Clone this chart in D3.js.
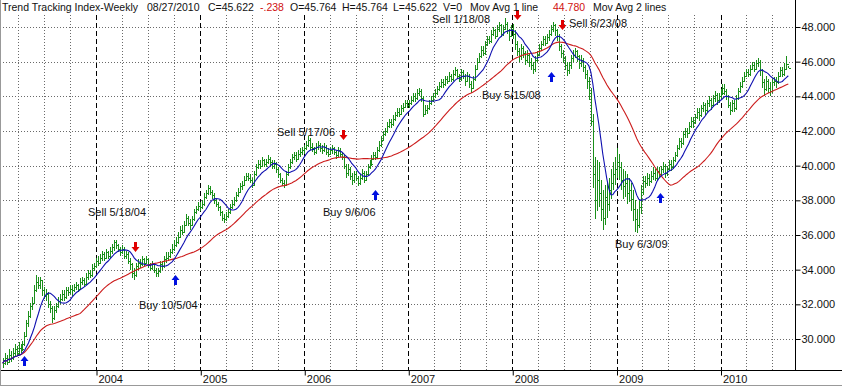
<!DOCTYPE html>
<html>
<head>
<meta charset="utf-8">
<script src="https://cdn.jsdelivr.net/npm/d3@7"></script>
<style>
  html, body { margin: 0; padding: 0; background: #fff; }
  svg { display: block; font-family: Arial, "Liberation Sans", sans-serif; }
</style>
</head>
<body>
<div id="chart"></div>
<script>
// Weekly bars, one per Friday starting with this week.
const firstWeek = '2003-02-07';

// Weekly closes, one line per calendar year.
const closes = [
  28.6, 28.9, 28.7, 29.1, 28.9, 29.2, 29.4, 29.2, 29.5, 29.4, 29.7, 30.2, 30.9, 31.3, 31.9, 32.1, 32.8, 33.3, 33.1, 33.4, 32.8, 32.5, 32.6, 32.0, 31.8, 31.2, 31.7, 31.9, 32.2, 32.3, 32.6, 32.4, 32.8, 32.7, 32.9, 32.8, 33.0, 33.1, 32.9, 33.3, 33.4, 33.2, 33.6, 33.8, 33.7, 34.1, 34.2,
  34.5, 34.4, 34.7, 34.9, 34.7, 35.0, 34.8, 35.1, 35.3, 35.6, 35.4, 35.2, 35.0, 35.2, 34.8, 34.9, 34.5, 34.3, 33.8, 33.7, 34.2, 34.4, 34.3, 34.6, 34.4, 34.6, 34.3, 34.1, 34.3, 34.0, 33.8, 33.9, 34.3, 34.2, 34.6, 34.7, 34.8, 35.0, 35.2, 35.4, 35.6, 35.9, 36.3, 36.2, 36.6, 37.0, 36.7, 36.6, 36.9, 37.3, 37.5, 37.7,
  37.6, 37.8, 38.2, 38.4, 38.7, 38.5, 38.3, 38.0, 37.8, 37.6, 37.3, 37.0, 36.9, 37.1, 37.3, 37.6, 37.8, 38.0, 38.3, 38.5, 38.8, 38.9, 39.2, 39.4, 39.3, 39.2, 38.9, 39.5, 39.9, 40.1, 40.0, 40.3, 40.1, 40.2, 40.4, 40.2, 40.0, 40.1, 39.8, 39.5, 39.2, 39.0, 38.9, 39.5, 39.9, 40.2, 40.5, 40.6, 40.4, 40.7, 40.8, 40.9,
  41.0, 41.2, 41.5, 41.1, 41.0, 40.8, 41.1, 41.2, 41.0, 40.9, 41.1, 40.8, 40.7, 40.9, 41.0, 40.8, 40.6, 40.9, 40.7, 40.5, 40.0, 39.6, 39.8, 39.4, 39.2, 39.5, 39.3, 39.0, 39.3, 39.6, 39.2, 39.5, 39.9, 40.1, 40.4, 40.6, 40.5, 40.9, 41.2, 41.5, 41.8, 42.0, 42.3, 42.5, 42.4, 42.7, 42.9, 43.1, 43.0, 43.3, 43.4, 43.6, 43.5,
  43.6, 43.8, 44.0, 43.9, 44.2, 44.3, 43.9, 43.0, 43.2, 43.3, 43.6, 43.8, 44.0, 44.2, 44.4, 44.6, 44.8, 44.7, 45.0, 44.9, 45.2, 45.0, 45.3, 45.5, 45.2, 45.0, 45.4, 45.2, 44.9, 45.2, 44.7, 44.5, 45.0, 45.6, 46.0, 46.3, 46.7, 46.5, 47.0, 47.3, 47.2, 47.6, 47.8, 47.5, 47.9, 48.1, 47.6, 47.9, 48.2, 47.8, 47.5, 47.9,
  47.6, 47.0, 46.6, 46.3, 46.8, 46.5, 46.1, 46.4, 46.0, 45.8, 45.6, 46.1, 46.4, 46.8, 47.0, 47.3, 47.1, 47.4, 47.6, 47.9, 48.1, 47.8, 47.5, 46.9, 46.5, 46.2, 45.8, 45.5, 45.8, 46.2, 46.4, 46.6, 46.3, 45.9, 46.1, 45.7, 45.3, 44.9, 44.2, 42.6, 39.5, 38.0, 39.2, 38.4, 37.5, 37.0, 38.2, 37.8, 38.6, 39.0, 39.5, 39.8,
  40.2, 39.9, 39.2, 38.8, 39.0, 38.4, 38.6, 38.1, 37.5, 36.9, 36.6, 37.6, 38.5, 39.1, 39.0, 39.3, 39.1, 39.4, 39.6, 39.3, 39.7, 39.5, 39.8, 40.0, 39.6, 39.8, 40.1, 39.9, 40.3, 40.6, 41.0, 41.4, 41.3, 41.8, 42.0, 41.9, 42.3, 42.6, 42.5, 42.8, 43.1, 42.9, 43.3, 43.5, 43.2, 43.6, 43.8, 43.5, 43.9, 44.1, 43.8, 44.0,
  44.2, 44.5, 44.3, 44.0, 43.5, 43.2, 43.6, 43.3, 43.9, 44.3, 44.6, 44.9, 45.2, 45.4, 45.3, 45.6, 45.8, 45.6, 45.9, 46.0, 45.5, 44.8, 44.4, 44.9, 44.5, 44.3, 44.8, 44.9, 44.8, 45.2, 45.5, 45.3, 45.6, 45.86, 45.622
];

const highs = [
  28.9, 29.2, 29.1, 29.4, 29.3, 29.5, 29.7, 29.6, 29.8, 29.7, 29.9, 30.4, 31.1, 31.6, 32.1, 32.4, 33.1, 33.7, 33.6, 33.6, 33.4, 33.0, 32.9, 32.7, 32.2, 31.9, 31.9, 32.1, 32.4, 32.6, 32.8, 32.8, 33.0, 33.0, 33.1, 33.1, 33.2, 33.3, 33.2, 33.5, 33.6, 33.5, 33.8, 34.0, 34.0, 34.3, 34.4,
  34.7, 34.8, 34.9, 35.1, 35.0, 35.2, 35.1, 35.3, 35.5, 35.7, 35.7, 35.5, 35.3, 35.4, 35.3, 35.1, 35.0, 34.7, 34.4, 34.1, 34.4, 34.6, 34.6, 34.8, 34.7, 34.8, 34.7, 34.4, 34.5, 34.4, 34.1, 34.1, 34.5, 34.5, 34.8, 35.0, 35.0, 35.2, 35.5, 35.7, 35.9, 36.2, 36.5, 36.6, 36.8, 37.2, 37.1, 36.9, 37.1, 37.5, 37.7, 37.9,
  37.9, 38.0, 38.4, 38.6, 38.9, 38.8, 38.6, 38.4, 38.1, 37.9, 37.7, 37.4, 37.2, 37.3, 37.5, 37.8, 38.0, 38.2, 38.5, 38.7, 39.0, 39.1, 39.4, 39.6, 39.6, 39.5, 39.3, 39.7, 40.1, 40.3, 40.3, 40.5, 40.4, 40.4, 40.6, 40.5, 40.3, 40.3, 40.2, 39.9, 39.6, 39.3, 39.2, 39.7, 40.1, 40.4, 40.7, 40.8, 40.8, 40.9, 41.0, 41.1,
  41.2, 41.4, 41.7, 41.6, 41.3, 41.1, 41.3, 41.4, 41.3, 41.2, 41.3, 41.2, 41.0, 41.1, 41.2, 41.1, 40.9, 41.1, 41.0, 40.8, 40.6, 40.1, 40.1, 39.9, 39.6, 39.7, 39.7, 39.4, 39.5, 39.8, 39.7, 39.7, 40.1, 40.3, 40.6, 40.8, 40.8, 41.1, 41.4, 41.7, 42.0, 42.2, 42.5, 42.7, 42.7, 42.9, 43.1, 43.3, 43.3, 43.5, 43.6, 43.8, 43.8,
  43.8, 44.0, 44.2, 44.2, 44.4, 44.5, 44.4, 44.0, 43.5, 43.5, 43.8, 44.0, 44.2, 44.4, 44.6, 44.8, 45.0, 45.0, 45.2, 45.2, 45.4, 45.3, 45.5, 45.7, 45.6, 45.3, 45.6, 45.5, 45.3, 45.4, 45.3, 44.9, 45.2, 45.8, 46.2, 46.5, 46.9, 46.9, 47.2, 47.5, 47.5, 47.8, 48.0, 47.9, 48.1, 48.3, 48.2, 48.1, 48.5, 48.3, 47.9, 48.1,
  48.2, 47.8, 47.2, 46.8, 47.0, 46.9, 46.6, 46.7, 46.5, 46.2, 46.0, 46.3, 46.6, 47.0, 47.2, 47.5, 47.5, 47.6, 47.8, 48.1, 48.3, 48.2, 47.9, 47.6, 47.0, 46.7, 46.3, 46.0, 46.0, 46.4, 46.7, 46.8, 46.7, 46.4, 46.4, 46.2, 45.8, 45.5, 45.1, 44.5, 43.0, 40.5, 40.3, 40.2, 39.2, 38.6, 38.9, 39.0, 39.3, 39.8, 40.2, 40.5,
  41.0, 40.7, 40.2, 39.8, 39.7, 39.5, 39.3, 39.0, 38.6, 38.0, 37.5, 38.0, 38.9, 39.4, 39.4, 39.6, 39.5, 39.7, 39.9, 39.8, 39.9, 39.9, 40.0, 40.2, 40.1, 40.0, 40.3, 40.3, 40.5, 40.8, 41.2, 41.6, 41.6, 42.0, 42.2, 42.2, 42.5, 42.8, 42.8, 43.0, 43.3, 43.3, 43.5, 43.7, 43.6, 43.8, 44.0, 43.9, 44.1, 44.3, 44.2, 44.2,
  44.4, 44.7, 44.7, 44.4, 44.1, 43.7, 43.8, 43.8, 44.1, 44.5, 44.8, 45.1, 45.4, 45.6, 45.6, 45.8, 46.0, 46.0, 46.1, 46.2, 46.1, 45.6, 45.0, 45.2, 45.0, 44.8, 45.0, 45.1, 45.1, 45.4, 45.7, 45.7, 45.9, 46.3, 45.764
];

const lows = [
  28.3, 28.5, 28.5, 28.6, 28.7, 28.8, 29.0, 29.0, 29.1, 29.2, 29.3, 29.6, 30.1, 30.7, 31.2, 31.7, 32.0, 32.7, 32.9, 32.9, 32.5, 32.3, 32.2, 31.8, 31.5, 30.9, 31.1, 31.5, 31.8, 32.0, 32.2, 32.2, 32.3, 32.5, 32.6, 32.5, 32.7, 32.8, 32.7, 32.8, 33.1, 33.0, 33.1, 33.4, 33.5, 33.6, 33.9,
  34.1, 34.2, 34.3, 34.5, 34.5, 34.6, 34.6, 34.7, 34.9, 35.1, 35.2, 35.0, 34.8, 34.9, 34.6, 34.6, 34.3, 34.0, 33.5, 33.4, 33.6, 34.0, 34.1, 34.2, 34.2, 34.3, 34.1, 33.9, 34.0, 33.8, 33.6, 33.6, 33.8, 34.0, 34.1, 34.4, 34.5, 34.7, 34.9, 35.1, 35.3, 35.5, 35.8, 36.0, 36.1, 36.5, 36.5, 36.3, 36.5, 36.8, 37.2, 37.4,
  37.4, 37.5, 37.7, 38.1, 38.3, 38.3, 38.1, 37.8, 37.6, 37.4, 37.1, 36.8, 36.7, 36.8, 37.0, 37.2, 37.5, 37.7, 37.9, 38.2, 38.4, 38.6, 38.8, 39.1, 39.1, 39.0, 38.7, 38.9, 39.4, 39.8, 39.8, 39.9, 39.9, 39.9, 40.1, 40.0, 39.8, 39.8, 39.6, 39.3, 39.0, 38.8, 38.7, 38.9, 39.4, 39.8, 40.1, 40.3, 40.2, 40.3, 40.5, 40.6,
  40.7, 40.9, 41.1, 40.9, 40.8, 40.6, 40.7, 40.9, 40.8, 40.7, 40.8, 40.6, 40.5, 40.6, 40.7, 40.6, 40.4, 40.5, 40.5, 40.3, 39.8, 39.3, 39.4, 39.2, 38.9, 39.0, 39.1, 38.8, 38.9, 39.2, 39.0, 39.1, 39.4, 39.8, 40.0, 40.3, 40.3, 40.4, 40.8, 41.1, 41.4, 41.7, 41.9, 42.2, 42.2, 42.3, 42.6, 42.8, 42.8, 42.9, 43.1, 43.3, 43.3,
  43.3, 43.5, 43.7, 43.7, 43.8, 44.0, 43.7, 42.8, 42.9, 43.0, 43.2, 43.5, 43.7, 43.9, 44.1, 44.3, 44.5, 44.5, 44.6, 44.7, 44.8, 44.8, 44.9, 45.2, 45.0, 44.8, 44.9, 45.0, 44.6, 44.8, 44.5, 44.2, 44.4, 44.9, 45.5, 45.9, 46.2, 46.3, 46.4, 46.9, 47.0, 47.1, 47.5, 47.3, 47.4, 47.7, 47.4, 47.5, 47.8, 47.6, 47.2, 47.4,
  47.3, 46.7, 46.3, 46.0, 46.1, 46.2, 45.8, 45.9, 45.7, 45.5, 45.3, 45.4, 46.0, 46.3, 46.6, 46.9, 46.9, 47.0, 47.2, 47.5, 47.7, 47.5, 47.2, 46.6, 46.2, 45.9, 45.5, 45.2, 45.3, 45.6, 46.0, 46.2, 46.0, 45.6, 45.7, 45.4, 45.0, 44.4, 43.8, 42.3, 38.7, 36.9, 37.4, 37.6, 36.8, 36.3, 36.6, 37.0, 37.4, 38.1, 38.6, 38.9,
  39.3, 39.2, 38.6, 38.1, 38.2, 37.8, 37.9, 37.4, 36.8, 36.2, 36.1, 36.4, 37.2, 38.3, 38.7, 38.8, 38.8, 39.0, 39.2, 39.1, 39.2, 39.3, 39.4, 39.6, 39.3, 39.4, 39.7, 39.7, 39.8, 40.2, 40.5, 40.9, 41.0, 41.2, 41.6, 41.6, 41.8, 42.2, 42.2, 42.4, 42.7, 42.6, 42.8, 43.1, 42.9, 43.1, 43.4, 43.2, 43.4, 43.7, 43.5, 43.6,
  43.8, 44.1, 44.1, 43.8, 43.3, 42.9, 43.1, 43.1, 43.2, 43.8, 44.2, 44.5, 44.8, 45.1, 45.1, 45.2, 45.5, 45.4, 45.5, 45.7, 45.2, 44.5, 44.0, 44.3, 44.2, 44.0, 44.2, 44.6, 44.5, 44.7, 45.1, 45.1, 45.2, 45.5, 45.622
];

// Moving average lengths, in weeks.
const ma1Weeks = 10;
const ma2Weeks = 40;

// Axis ticks.
const yTicks = [30, 32, 34, 36, 38, 40, 42, 44, 46, 48];
const yearTicks = [2004, 2005, 2006, 2007, 2008, 2009, 2010];

// Buy / sell signals.
const signalDates = ['2003-04-25', '2004-05-18', '2004-10-05', '2006-05-17', '2006-09-06',
                     '2008-01-18', '2008-05-15', '2008-06-23', '2009-06-03'];
const signalTypes = ['buy', 'sell', 'buy', 'sell', 'buy', 'sell', 'buy', 'sell', 'buy'];
const signalLevels = [29.0, 35.0, 33.7, 41.5, 38.6, 48.4, 45.4, 47.8, 38.4];
const signalLabels = ['', 'Sell 5/18/04', 'Buy 10/5/04', 'Sell 5/17/06', 'Buy 9/6/06',
                      'Sell 1/18/08', 'Buy 5/15/08', 'Sell 6/23/08', 'Buy 6/3/09'];

// Header line.
const headerParts = ['Trend Tracking Index-Weekly', '08/27/2010', 'C=45.622', '-.238', 'O=45.764',
                     'H=45.764', 'L=45.622', 'V=0', 'Mov Avg 1 line', '44.780', 'Mov Avg 2 lines'];

// ---- layout (pixels), kept apart from the data ----
const width = 842;
const height = 388;
const plotRight = 795;
const plotTop = 15;
const plotBottom = 370;
const headerX = [2, 147, 208, 260, 290, 342, 393, 443, 470, 553, 593];
const headerRed = [3, 9];
const labelPos = [null, [88, 216], [139, 309], [277, 136], [323, 216],
                  [432, 23], [482, 99], [569, 27], [615, 248]];

const colors = {
  bar: '#1a8f1a',
  ma1: '#1010b0',
  ma2: '#cc1c1c',
  sell: '#e00000',
  buy: '#0010e0',
  grid: '#6a6a6a'
};

const parse = d3.timeParse('%Y-%m-%d');
const start = parse(firstWeek);
const dates = closes.map((c, i) => d3.timeDay.offset(start, 7 * i));

const svg = d3.select('#chart')
  .append('svg')
  .attr('width', width)
  .attr('height', height);

svg.append('rect')
  .attr('width', width)
  .attr('height', height)
  .style('fill', '#fff');

// Scales.
const x = d3.scaleTime()
  .domain([new Date(2004, 0, 1), new Date(2010, 0, 1)])
  .range([96, 720.5]);
const y = d3.scaleLinear()
  .domain([30, 48])
  .range([339, 27]);

const px = v => Math.round(v) + 0.5;

// Horizontal dotted gridlines.
svg.append('g')
  .selectAll('line')
  .data(yTicks)
  .enter()
  .append('line')
  .attr('x1', 0)
  .attr('x2', plotRight)
  .attr('y1', d => px(y(d)))
  .attr('y2', d => px(y(d)))
  .style('stroke', colors.grid)
  .style('stroke-dasharray', '1,2');

// Quarter lines (dotted) and year lines (dashed).
const quarters = d3.timeMonth.every(3)
  .range(new Date(2003, 3, 1), new Date(2010, 9, 1))
  .filter(d => d.getMonth() !== 0);
svg.append('g')
  .selectAll('line')
  .data(quarters)
  .enter()
  .append('line')
  .attr('x1', d => px(x(d)))
  .attr('x2', d => px(x(d)))
  .attr('y1', plotTop)
  .attr('y2', plotBottom)
  .style('stroke', colors.grid)
  .style('stroke-dasharray', '1,2');

const yearDates = yearTicks.map(yr => new Date(yr, 0, 1));
svg.append('g')
  .selectAll('line')
  .data(yearDates)
  .enter()
  .append('line')
  .attr('x1', d => px(x(d)))
  .attr('x2', d => px(x(d)))
  .attr('y1', plotTop)
  .attr('y2', plotBottom)
  .style('stroke', '#000')
  .style('stroke-dasharray', '5,3');

// Price bars: high-low with close tick.
const bars = svg.append('g')
  .style('stroke', colors.bar)
  .style('stroke-width', 1)
  .style('shape-rendering', 'crispEdges');

bars.selectAll('line.hl')
  .data(closes)
  .enter()
  .append('line')
  .classed('hl', true)
  .attr('x1', (d, i) => px(x(dates[i])))
  .attr('x2', (d, i) => px(x(dates[i])))
  .attr('y1', (d, i) => y(highs[i]))
  .attr('y2', (d, i) => y(lows[i]));

bars.selectAll('line.cl')
  .data(closes)
  .enter()
  .append('line')
  .classed('cl', true)
  .attr('x1', (d, i) => px(x(dates[i])))
  .attr('x2', (d, i) => px(x(dates[i])) + 2)
  .attr('y1', d => px(y(d)))
  .attr('y2', d => px(y(d)));

// Simple moving averages (shorter window while history is building up).
const sma = (values, n) => values.map((v, i) => d3.mean(values.slice(Math.max(0, i - n + 1), i + 1)));

const line = d3.line()
  .x((d, i) => x(dates[i]))
  .y(d => y(d));

svg.append('path')
  .datum(sma(closes, ma2Weeks))
  .attr('d', line)
  .style('fill', 'none')
  .style('stroke', colors.ma2)
  .style('stroke-width', 1.1);

svg.append('path')
  .datum(sma(closes, ma1Weeks))
  .attr('d', line)
  .style('fill', 'none')
  .style('stroke', colors.ma1)
  .style('stroke-width', 1.1);

// Signal arrows, tip at (0,0) pointing down.
const arrowPath = 'M-1.5,-10H1.5V-5H4L0,0L-4,-5H-1.5Z';
svg.append('g')
  .selectAll('path')
  .data(signalDates)
  .enter()
  .append('path')
  .attr('d', arrowPath)
  .attr('transform', (d, i) => {
    const ax = Math.round(x(parse(d))) + 0.5;
    const ay = Math.round(y(signalLevels[i]));
    return signalTypes[i] === 'sell'
      ? `translate(${ax},${ay})`
      : `translate(${ax},${ay}) scale(1,-1)`;
  })
  .style('fill', (d, i) => signalTypes[i] === 'sell' ? colors.sell : colors.buy);

svg.append('g')
  .selectAll('text')
  .data(signalLabels.filter(l => l))
  .enter()
  .append('text')
  .text(d => d)
  .attr('x', d => labelPos[signalLabels.indexOf(d)][0])
  .attr('y', d => labelPos[signalLabels.indexOf(d)][1])
  .style('font-size', '11px')
  .style('fill', '#111');

// Right value axis.
const yAxis = svg.append('g')
  .attr('transform', `translate(${plotRight + 0.5},0)`)
  .call(d3.axisRight(y)
    .tickValues(yTicks)
    .tickFormat(d3.format('.3f'))
    .tickSize(5)
    .tickPadding(1));
yAxis.select('.domain').remove();
yAxis.selectAll('text').style('font-size', '11px').style('fill', '#111').style('font-family', 'Arial, "Liberation Sans", sans-serif');

svg.append('line')
  .attr('x1', plotRight + 0.5)
  .attr('x2', plotRight + 0.5)
  .attr('y1', 0)
  .attr('y2', plotBottom)
  .style('stroke', '#000');

// Bottom time axis.
const xAxis = svg.append('g')
  .attr('transform', `translate(0,${plotBottom + 0.5})`)
  .call(d3.axisBottom(x)
    .tickValues(yearDates)
    .tickFormat(d3.timeFormat('%Y'))
    .tickSize(5));
xAxis.select('.domain').remove();
xAxis.selectAll('.tick line').attr('transform', 'translate(0.5,0)');
xAxis.selectAll('text')
  .attr('x', 2)
  .attr('y', 5)
  .style('text-anchor', 'start')
  .style('font-size', '11px')
  .style('fill', '#111')
  .style('font-family', 'Arial, "Liberation Sans", sans-serif');

svg.append('line')
  .attr('x1', 0)
  .attr('x2', width)
  .attr('y1', plotBottom + 0.5)
  .attr('y2', plotBottom + 0.5)
  .style('stroke', '#000');

// Outer frame.
svg.append('line')
  .attr('x1', 0.5).attr('x2', 0.5)
  .attr('y1', 0).attr('y2', 385)
  .style('stroke', '#999');
svg.append('line')
  .attr('x1', 0).attr('x2', width)
  .attr('y1', 385.5).attr('y2', 385.5)
  .style('stroke', '#999');

// Header.
svg.append('g')
  .selectAll('text')
  .data(headerParts)
  .enter()
  .append('text')
  .text(d => d)
  .attr('x', (d, i) => headerX[i])
  .attr('y', 11)
  .style('font-size', '10.5px')
  .style('fill', (d, i) => headerRed.includes(i) ? '#d01010' : '#111');
</script>
</body>
</html>
